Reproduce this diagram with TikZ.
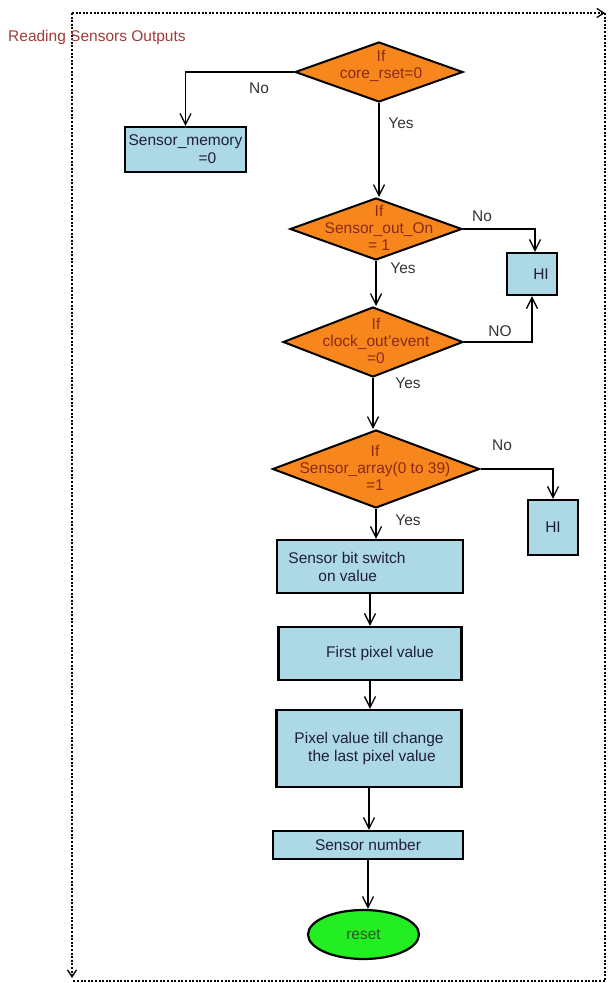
\documentclass[tikz,border=0pt]{standalone}
\usepackage{fontspec}
\setmainfont{Liberation Sans}
\usetikzlibrary{shapes.geometric,arrows.meta}
\definecolor{boxblue}{HTML}{ADD8E6}
\definecolor{dorange}{HTML}{F7861C}
\definecolor{rgreen}{HTML}{22EE22}
\definecolor{titlered}{HTML}{9E3B3B}
\definecolor{dtextc}{HTML}{8B2A1A}
\definecolor{boxtext}{HTML}{1E1E3C}
\definecolor{lbltext}{HTML}{333333}
\definecolor{rtext}{HTML}{2A5A2A}
\begin{document}
\begin{tikzpicture}[x=1pt,y=-1pt,
  every node/.style={font=\fontsize{15.5}{18}\selectfont},
  dia/.style={shape=diamond,draw=black,line width=2pt,fill=dorange,inner sep=0pt},
  dtext/.style={text=dtextc,align=center,font=\fontsize{15.5}{17}\selectfont},
  blbox/.style={draw=black,line width=2.2pt,fill=boxblue,inner sep=0pt,text=boxtext},
  lbl/.style={text=lbltext},
  conn/.style={line width=1.9pt,-{Straight Barb[length=11pt,width=11pt,line width=1.3pt]}},
  frame/.style={line width=2.2pt,dash pattern=on 2pt off 1.6pt},
  ftip/.style={-{Straight Barb[length=7pt,width=9pt,line width=1.3pt]}}]
\useasboundingbox (0,0) rectangle (610,983);
% frame
\coordinate (ftl) at (72,13);
\coordinate (ftr) at (605,13);
\coordinate (fbr) at (605,981);
\coordinate (fbl) at (72,981);
\coordinate (fend) at (72,978);
\draw[frame,ftip] (ftl) -- (ftr);
\draw[frame] (ftr) -- (fbr) -- (fbl);
\draw[frame,ftip] (ftl) -- (fend);
\node[anchor=west,text=titlered,inner sep=0pt] (title) at (8,37) {Reading Sensors Outputs};
% diamonds
\node[dia,minimum width=168pt,minimum height=60pt] (d1) at (379,72) {};
\node[dtext] (d1t) at (381,66) {If\\core\_rset=0};
\node[dia,minimum width=172pt,minimum height=62pt] (d2) at (376,229) {};
\node[dtext] (d2t) at (379,228) {If\\Sensor\_out\_On\\= 1};
\node[dia,minimum width=180pt,minimum height=70pt] (d3) at (373,342) {};
\node[dtext] (d3t) at (376,341) {If\\clock\_out'event\\=0};
\node[dia,minimum width=207pt,minimum height=78pt] (d4) at (376,469) {};
\node[dtext] (d4t) at (375,468) {If\\Sensor\_array(0 to 39)\\=1};
% boxes
\node[blbox,minimum width=121pt,minimum height=45pt,align=left] (sm) at (185.5,149.5) {Sensor\_memory\\\hspace*{70pt}=0};
\node[blbox,minimum width=50pt,minimum height=42pt] (hi1) at (532,274) {\hspace*{18pt}HI};
\node[blbox,minimum width=50pt,minimum height=55pt] (hi2) at (553,527.5) {HI};
\node[blbox,minimum width=186pt,minimum height=53pt,align=left] (sbs) at (370,566.5) {Sensor bit switch\hspace*{46pt}\\\hspace*{30pt}on value};
\node[blbox,minimum width=183pt,minimum height=53pt] (fpv) at (370,653.5) {\hspace*{20pt}First pixel value};
\node[blbox,minimum width=185pt,minimum height=77pt,align=center] (pv) at (369,748.5) {Pixel value till change\\\hspace*{6pt}the last pixel value};
\node[blbox,minimum width=190pt,minimum height=28pt] (sn) at (368,845) {Sensor number};
\node[shape=ellipse,draw=black,line width=2.2pt,fill=rgreen,inner sep=0pt,minimum width=111pt,minimum height=49pt,text=rtext] (rst) at (363.5,934.5) {reset};
% labels
\node[lbl] (l1) at (259,88) {No};
\node[lbl] (l2) at (401,123) {Yes};
\node[lbl] (l3) at (482,216) {No};
\node[lbl] (l4) at (403,268) {Yes};
\node[lbl] (l5) at (500,331) {NO};
\node[lbl] (l6) at (408,383) {Yes};
\node[lbl] (l7) at (502,445) {No};
\node[lbl] (l8) at (408,520) {Yes};
% connectors
\draw[conn] (d1.west) -| (sm.north);
\draw[conn] (d1.south) -- (d1.south |- d2.north);
\draw[conn] (d2.east) -| ([xshift=3pt]hi1.north);
\draw[conn] (d2.south) -- (d2.south |- d3.north);
\draw[conn] (d3.east) -| (hi1.south);
\draw[conn] (d3.south) -- (d3.south |- d4.north);
\draw[conn] (d4.east) -| (hi2.north);
\draw[conn] (d4.south) -- (d4.south |- sbs.north);
\draw[conn] (sbs.south) -- (sbs.south |- fpv.north);
\draw[conn] (fpv.south) -- (fpv.south |- pv.north);
\draw[conn] (pv.south) -- (pv.south |- sn.north);
\draw[conn] (sn.south) -- (sn.south |- rst.north);
\end{tikzpicture}
\end{document}
